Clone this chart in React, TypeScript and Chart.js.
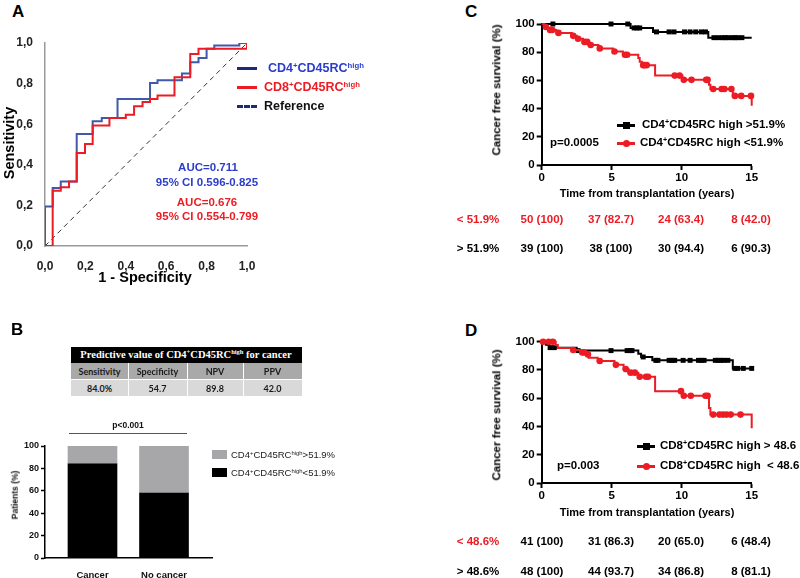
import React, { useEffect, useRef } from 'react';
import { Chart, registerables } from 'chart.js';

Chart.register(...registerables);

const FONT = '"Liberation Sans", Arial, Helvetica, sans-serif';
const RED = '#ec1c24';
const BLUE_LINE = '#3f5aa8';
const BLUE_TEXT = '#2b3dcc';

// ---------- Panel A : ROC ----------
const rocTicks = [0, 0.2, 0.4, 0.6, 0.8, 1.0];
const rocCD4Fpr = [0, 0, 0.038, 0.078, 0.157, 0.236, 0.281, 0.359, 0.52, 0.557, 0.678, 0.719, 0.76, 0.8, 0.838, 0.962, 1];
const rocCD4Tpr = [0, 0.195, 0.286, 0.318, 0.552, 0.614, 0.63, 0.724, 0.803, 0.816, 0.85, 0.905, 0.926, 0.972, 0.988, 1.0, 1];
const rocCD8Fpr = [0, 0.038, 0.078, 0.119, 0.157, 0.198, 0.236, 0.319, 0.4, 0.441, 0.483, 0.52, 0.557, 0.641, 0.719, 0.76, 1];
const rocCD8Tpr = [0, 0.272, 0.29, 0.318, 0.458, 0.502, 0.594, 0.63, 0.647, 0.688, 0.709, 0.724, 0.741, 0.831, 0.946, 0.972, 1];
const rocRefX = [0, 1];
const rocRefY = [0, 1];

// ---------- Panel B : stacked bars ----------
const bCategories = ['Cancer', 'No cancer'];
const bLow = [84, 58];   // CD4+CD45RChigh < 51.9%
const bHigh = [16, 42];  // CD4+CD45RChigh > 51.9%
const bTicks = [0, 20, 40, 60, 80, 100];
const bTableHead = ['Sensitivity', 'Specificity', 'NPV', 'PPV'];
const bTableVals = ['84.0%', '54.7', '89.8', '42.0'];

// ---------- Panels C / D : Kaplan-Meier ----------
const kmXTicks = [0, 5, 10, 15];
const kmYTicks = [0, 20, 40, 60, 80, 100];
const kmEnd = 15;

const cHighEvents = [6.35, 7.95, 11.9];
const cHighSurv = [97.2, 94.4, 90.3];
const cHighCens = [0.8, 4.95, 6.15, 6.6, 6.8, 7.0, 8.2, 9.1, 9.45, 10.2, 10.6, 11.0, 11.4, 11.7, 12.3, 12.6, 12.9, 13.1, 13.3, 13.6, 13.8, 14.0, 14.3];
const cLowEvents = [0.2, 0.45, 1.05, 2.15, 2.5, 2.95, 3.35, 4.05, 5.1, 5.8, 6.9, 7.0, 7.15, 8.1, 10.05, 11.95, 12.05, 13.65, 15.0];
const cLowSurv = [97.9, 95.8, 93.7, 91.6, 89.5, 87.3, 85.1, 82.7, 80.5, 78.2, 75.8, 73.3, 70.8, 63.4, 60.4, 57.0, 53.9, 49.0, 42.0];
const cLowCens = [0.3, 0.6, 0.75, 1.2, 2.25, 2.6, 3.05, 3.25, 3.5, 4.15, 5.2, 5.95, 6.1, 7.25, 7.35, 7.5, 9.5, 9.85, 10.15, 10.7, 11.75, 11.85, 12.25, 12.85, 13.05, 13.55, 13.8, 14.25, 14.95];

const dHighEvents = [0.3, 0.55, 2.5, 6.9, 7.1, 7.9, 13.65];
const dHighSurv = [97.9, 95.8, 93.7, 91.5, 89.2, 86.8, 81.1];
const dHighCens = [0.6, 0.9, 2.6, 4.95, 6.1, 6.3, 6.45, 7.25, 8.15, 8.3, 9.1, 9.3, 9.5, 10.1, 10.6, 11.2, 11.4, 11.6, 12.4, 12.6, 12.8, 13.0, 13.3, 13.8, 14.0, 14.4, 15.0];
const dLowEvents = [1.0, 1.15, 2.15, 2.75, 3.2, 3.35, 4.0, 5.2, 5.85, 6.2, 6.9, 8.1, 10.05, 11.95, 12.05, 15.0];
const dLowSurv = [97.6, 95.6, 94.1, 92.4, 91.0, 88.7, 86.3, 83.6, 80.6, 78.1, 75.2, 65.0, 61.8, 53.1, 48.4, 38.7];
const dLowCens = [0.1, 0.5, 0.8, 2.25, 2.9, 3.05, 3.3, 4.15, 5.3, 6.0, 6.35, 6.65, 7.0, 7.45, 7.6, 9.95, 10.15, 10.65, 11.7, 11.85, 12.25, 12.7, 12.95, 13.2, 13.5, 14.2];

const cRiskLow = ['< 51.9%', '50 (100)', '37 (82.7)', '24 (63.4)', '8 (42.0)'];
const cRiskHigh = ['> 51.9%', '39 (100)', '38 (100)', '30 (94.4)', '6 (90.3)'];
const dRiskLow = ['< 48.6%', '41 (100)', '31 (86.3)', '20 (65.0)', '6 (48.4)'];
const dRiskHigh = ['> 48.6%', '48 (100)', '44 (93.7)', '34 (86.8)', '8 (81.1)'];

// ---------- helpers ----------
const zip = (xs: number[], ys: number[]) => xs.map((x, i) => ({ x, y: ys[i] }));

function kmLine(ev: number[], sv: number[], end: number) {
  const pts = [{ x: 0, y: 100 }, ...zip(ev, sv)];
  if (end > ev[ev.length - 1]) pts.push({ x: end, y: sv[sv.length - 1] });
  return pts;
}
function survAt(t: number, ev: number[], sv: number[]) {
  let s = 100;
  ev.forEach((e, i) => { if (e < t) s = sv[i]; });
  return s;
}
function kmCens(cens: number[], ev: number[], sv: number[]) {
  return cens.map((t) => ({ x: t, y: survAt(t, ev, sv) }));
}

function ChartBox({ left, top, width, height, make }: any) {
  const ref = useRef<HTMLCanvasElement>(null);
  useEffect(() => {
    const chart = new Chart(ref.current as HTMLCanvasElement, make());
    return () => chart.destroy();
  }, []);
  return (
    <canvas
      ref={ref}
      width={width}
      height={height}
      style={{ position: 'absolute', left, top, width, height }}
    />
  );
}

function T({ x, y, children, size = 12, color = '#000', weight = 'bold', align = 'left', rotate = false, family = FONT }: any) {
  const tx = align === 'center' ? '-50%' : align === 'right' ? '-100%' : '0';
  return (
    <div
      style={{
        position: 'absolute',
        left: x,
        top: y,
        transform: rotate ? 'translate(-50%,-50%) rotate(-90deg)' : `translate(${tx},-50%)`,
        fontFamily: family,
        fontSize: size,
        fontWeight: weight,
        color,
        whiteSpace: 'nowrap',
        lineHeight: 1,
      }}
    >
      {children}
    </div>
  );
}

const Sup = ({ children }: any) => (
  <span style={{ fontSize: '0.62em', position: 'relative', top: '-0.55em' }}>{children}</span>
);

// ---------- chart configs ----------
function rocConfig(): any {
  const fmt = (v: any) => Number(v).toFixed(1).replace('.', ',');
  const axis = (fit: (s: any) => void, pad: number) => ({
    type: 'linear',
    min: 0,
    max: 1,
    afterBuildTicks: (s: any) => { s.ticks = rocTicks.map((v) => ({ value: v })); },
    ticks: { callback: fmt, font: { family: FONT, size: 12, weight: 'bold' }, color: '#222', padding: pad },
    grid: { display: false },
    border: { display: true, color: '#9a9a9a', width: 1.5 },
    afterFit: fit,
  });
  return {
    type: 'scatter',
    data: {
      datasets: [
        { data: zip(rocCD8Fpr, rocCD8Tpr), showLine: true, stepped: 'before', borderColor: RED, borderWidth: 2, pointRadius: 0 },
        { data: zip(rocCD4Fpr, rocCD4Tpr), showLine: true, stepped: 'before', borderColor: BLUE_LINE, borderWidth: 2, pointRadius: 0 },
        { data: zip(rocRefX, rocRefY), showLine: true, borderColor: '#333', borderWidth: 1, borderDash: [5, 4], pointRadius: 0 },
      ],
    },
    options: {
      animation: false,
      responsive: false,
      layout: { padding: { top: 13, right: 15, left: 0, bottom: 0 } },
      plugins: { legend: { display: false }, tooltip: { enabled: false } },
      scales: {
        x: axis((s: any) => { s.height = 34; }, 5),
        y: axis((s: any) => { s.width = 45; }, 4),
      },
    },
  };
}

function barConfig(): any {
  return {
    type: 'bar',
    data: {
      datasets: [
        { data: zip([0, 1], bLow), backgroundColor: '#000', barThickness: 49 },
        { data: zip([0, 1], bHigh), backgroundColor: '#a7a7a9', barThickness: 49 },
      ],
    },
    options: {
      animation: false,
      responsive: false,
      layout: { padding: { top: 11, right: 18, left: 0, bottom: 0 } },
      plugins: { legend: { display: false }, tooltip: { enabled: false } },
      scales: {
        x: {
          type: 'linear',
          stacked: true,
          offset: false,
          min: -0.664,
          max: 1.671,
          afterBuildTicks: (s: any) => { s.ticks = bCategories.map((_, i) => ({ value: i })); },
          ticks: { callback: (v: any) => bCategories[v] ?? '', font: { family: FONT, size: 9.5, weight: 'bold' }, color: '#111', padding: 4 },
          grid: { display: false },
          border: { display: true, color: '#000', width: 1.5 },
          afterFit: (s: any) => { s.height = 20; },
        },
        y: {
          stacked: true,
          min: 0,
          max: 100,
          afterBuildTicks: (s: any) => { s.ticks = bTicks.map((v) => ({ value: v })); },
          ticks: { font: { family: FONT, size: 9, weight: 'bold' }, color: '#111', padding: 2 },
          grid: { drawOnChartArea: false, drawTicks: true, tickLength: 4, tickColor: '#000', tickWidth: 1.5 },
          border: { display: true, color: '#000', width: 1.5 },
          afterFit: (s: any) => { s.width = 45; },
        },
      },
    },
  };
}

function kmConfig(hiEv: number[], hiSv: number[], hiCens: number[], loEv: number[], loSv: number[], loCens: number[], padTop: number): any {
  const tickFont = { family: FONT, size: 11.5, weight: 'bold' };
  return {
    type: 'scatter',
    data: {
      datasets: [
        { data: kmCens(loCens, loEv, loSv), showLine: false, pointStyle: 'circle', pointRadius: 3.3, backgroundColor: RED, borderColor: RED, borderWidth: 0, clip: false },
        { data: kmLine(loEv, loSv, kmEnd), showLine: true, stepped: 'before', borderColor: RED, borderWidth: 2, pointRadius: 0, clip: false },
        { data: kmCens(hiCens, hiEv, hiSv), showLine: false, pointStyle: 'rect', pointRadius: 3.5, backgroundColor: '#000', borderColor: '#000', borderWidth: 0, clip: false },
        { data: kmLine(hiEv, hiSv, kmEnd), showLine: true, stepped: 'before', borderColor: '#000', borderWidth: 2, pointRadius: 0, clip: false },
      ],
    },
    options: {
      animation: false,
      responsive: false,
      layout: { padding: { top: padTop, right: 23.3, left: 0, bottom: 0 } },
      plugins: { legend: { display: false }, tooltip: { enabled: false } },
      scales: {
        x: {
          type: 'linear',
          min: 0,
          max: 15,
          afterBuildTicks: (s: any) => { s.ticks = kmXTicks.map((v) => ({ value: v })); },
          ticks: { font: tickFont, color: '#000', padding: 1 },
          grid: { drawOnChartArea: false, drawTicks: true, tickLength: 5, tickColor: '#000', tickWidth: 2 },
          border: { display: true, color: '#000', width: 2 },
          afterFit: (s: any) => { s.height = 40; },
        },
        y: {
          type: 'linear',
          min: 0,
          max: 100,
          afterBuildTicks: (s: any) => { s.ticks = kmYTicks.map((v) => ({ value: v })); },
          ticks: { font: tickFont, color: '#000', padding: 2 },
          grid: { drawOnChartArea: false, drawTicks: true, tickLength: 5, tickColor: '#000', tickWidth: 2 },
          border: { display: true, color: '#000', width: 2 },
          afterFit: (s: any) => { s.width = 46.7; },
        },
      },
    },
  };
}

// ---------- small HTML pieces ----------
function LineSwatch({ x1, x2, y, color, dash = false, marker }: any) {
  return (
    <>
      <div
        style={{
          position: 'absolute',
          left: x1,
          top: y - 1.5,
          width: x2 - x1,
          height: 0,
          borderTop: dash ? `3px dashed ${color}` : `3px solid ${color}`,
        }}
      />
      {marker && (
        <div
          style={{
            position: 'absolute',
            left: (x1 + x2) / 2 - 3.5,
            top: y - 3.5,
            width: 7,
            height: 7,
            background: color,
            borderRadius: marker === 'circle' ? '50%' : 0,
          }}
        />
      )}
    </>
  );
}

const kmColX = [478, 542, 611, 681, 751];

function RiskRow({ y, cells, labelColor, color }: any) {
  return (
    <>
      {cells.map((c: string, i: number) => (
        <T key={i} x={kmColX[i]} y={y} size={11.5} align="center" color={i === 0 ? labelColor : color}>{c}</T>
      ))}
    </>
  );
}

function PredTable() {
  const colX = [71, 128, 187, 243, 302];
  return (
    <>
      <div style={{ position: 'absolute', left: 71, top: 347, width: 231, height: 16, background: '#000' }} />
      <T x={186} y={355} size={10.5} color="#fff" align="center" family='"Liberation Serif", "Times New Roman", serif'>
        Predictive value of CD4<Sup>+</Sup>CD45RC<Sup>high</Sup> for cancer
      </T>
      {bTableHead.map((h, i) => (
        <React.Fragment key={i}>
          <div style={{ position: 'absolute', left: colX[i] + (i ? 1 : 0), top: 363, width: colX[i + 1] - colX[i] - (i ? 1 : 0), height: 16, background: '#a9a9a9' }} />
          <div style={{ position: 'absolute', left: colX[i] + (i ? 1 : 0), top: 380, width: colX[i + 1] - colX[i] - (i ? 1 : 0), height: 16, background: '#d9d9d9' }} />
          <T x={(colX[i] + colX[i + 1]) / 2} y={371} size={9} align="center" color="#1a1a1a" family='Lato, "Open Sans", sans-serif'>{h}</T>
          <T x={(colX[i] + colX[i + 1]) / 2} y={388} size={9} align="center" color="#1a1a1a" family='Lato, "Open Sans", sans-serif'>{bTableVals[i]}</T>
        </React.Fragment>
      ))}
    </>
  );
}

export default function App() {
  return (
    <div style={{ position: 'absolute', left: 0, top: 0, width: 800, height: 578, background: '#fff', overflow: 'hidden' }}>
      {/* Panel A */}
      <T x={12} y={11} size={17}>A</T>
      <ChartBox left={0} top={30} width={262} height={250} make={rocConfig} />
      <T x={9} y={143} size={14.5} rotate>Sensitivity</T>
      <T x={145} y={277} size={14.5} align="center">1 - Specificity</T>
      <LineSwatch x1={237} x2={257} y={68} color="#1c2a7a" />
      <T x={268} y={68} size={12.5} color={BLUE_TEXT}>CD4<Sup>+</Sup>CD45RC<Sup>high</Sup></T>
      <LineSwatch x1={237} x2={257} y={87} color={RED} />
      <T x={264} y={87} size={12.5} color={RED}>CD8<Sup>+</Sup>CD45RC<Sup>high</Sup></T>
      <LineSwatch x1={237} x2={257} y={106} color="#1c2a7a" dash />
      <T x={264} y={106} size={12.5} color="#111">Reference</T>
      <T x={208} y={168} size={11.5} align="center" color={BLUE_TEXT}>AUC=0.711</T>
      <T x={207} y={183} size={11.5} align="center" color={BLUE_TEXT}>95% CI 0.596-0.825</T>
      <T x={207} y={203} size={11.5} align="center" color={RED}>AUC=0.676</T>
      <T x={207} y={217} size={11.5} align="center" color={RED}>95% CI 0.554-0.799</T>

      {/* Panel B */}
      <T x={11} y={329} size={17}>B</T>
      <PredTable />
      <T x={128} y={425} size={8.5} align="center" color="#111">p&lt;0.001</T>
      <div style={{ position: 'absolute', left: 69, top: 433, width: 118, height: 1, background: '#555' }} />
      <ChartBox left={0} top={435} width={230} height={143} make={barConfig} />
      <T x={15} y={495} size={8.5} rotate color="#111">Patients (%)</T>
      <div style={{ position: 'absolute', left: 212, top: 450, width: 15, height: 9, background: '#a7a7a9' }} />
      <T x={231} y={455} size={9.5} weight="normal" color="#222">CD4<Sup>+</Sup>CD45RC<Sup>high</Sup>&gt;51.9%</T>
      <div style={{ position: 'absolute', left: 212, top: 468, width: 15, height: 9, background: '#000' }} />
      <T x={231} y={473} size={9.5} weight="normal" color="#222">CD4<Sup>+</Sup>CD45RC<Sup>high</Sup>&lt;51.9%</T>

      {/* Panel C */}
      <T x={465} y={11} size={17}>C</T>
      <ChartBox left={495} top={10} width={280} height={195}
        make={() => kmConfig(cHighEvents, cHighSurv, cHighCens, cLowEvents, cLowSurv, cLowCens, 14)} />
      <T x={497} y={90} size={11.5} rotate>Cancer free survival (%)</T>
      <T x={647} y={193} size={11} align="center">Time from transplantation (years)</T>
      <LineSwatch x1={617} x2={635} y={125} color="#000" marker="rect" />
      <T x={642} y={125} size={11.5}>CD4<Sup>+</Sup>CD45RC high &gt;51.9%</T>
      <LineSwatch x1={617} x2={635} y={143} color={RED} marker="circle" />
      <T x={640} y={143} size={11.5}>CD4<Sup>+</Sup>CD45RC high &lt;51.9%</T>
      <T x={550} y={143} size={11.5}>p=0.0005</T>
      <RiskRow y={220} cells={cRiskLow} labelColor={RED} color={RED} />
      <RiskRow y={249} cells={cRiskHigh} labelColor="#000" color="#000" />

      {/* Panel D */}
      <T x={465} y={330} size={17}>D</T>
      <ChartBox left={495} top={328} width={280} height={195}
        make={() => kmConfig(dHighEvents, dHighSurv, dHighCens, dLowEvents, dLowSurv, dLowCens, 13.7)} />
      <T x={497} y={415} size={11.5} rotate>Cancer free survival (%)</T>
      <T x={647} y={512} size={11} align="center">Time from transplantation (years)</T>
      <LineSwatch x1={637} x2={655} y={446} color="#000" marker="rect" />
      <T x={660} y={446} size={11.5}>CD8<Sup>+</Sup>CD45RC high &gt; 48.6</T>
      <LineSwatch x1={637} x2={655} y={466} color={RED} marker="circle" />
      <T x={660} y={466} size={11.5}>CD8<Sup>+</Sup>CD45RC high&nbsp; &lt; 48.6</T>
      <T x={557} y={466} size={11.5}>p=0.003</T>
      <RiskRow y={542} cells={dRiskLow} labelColor={RED} color="#000" />
      <RiskRow y={572} cells={dRiskHigh} labelColor="#000" color="#000" />
    </div>
  );
}
